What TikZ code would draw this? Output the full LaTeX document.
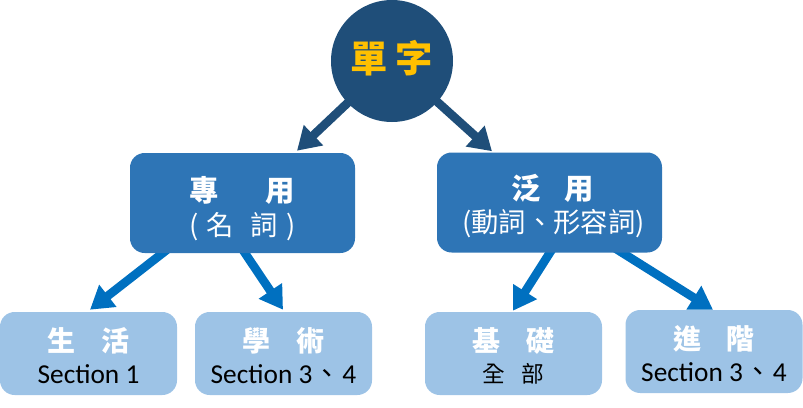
\documentclass[tikz,border=0pt]{standalone}
\usepackage{fontspec}
\setmainfont{Carlito}
\newfontfamily\cjk{Noto Sans CJK TC}
\usetikzlibrary{arrows.meta,calc,backgrounds}
\definecolor{navy}{HTML}{1F4E79}
\definecolor{midblue}{HTML}{2E75B6}
\definecolor{leafblue}{HTML}{9DC3E6}
\definecolor{arrowblue}{HTML}{0070C0}
\definecolor{gold}{HTML}{FFC000}
\begin{document}
\begin{tikzpicture}[x=0.75pt,y=-0.75pt]
\useasboundingbox (0,0) rectangle (803,407);
\tikzset{
 rootnode/.style={circle,fill=navy,minimum size=91.5pt,inner sep=0pt},
 midbox/.style={rectangle,rounded corners=11pt,fill=midblue,minimum width=168.75pt,minimum height=75pt,inner sep=0pt},
 leafbox/.style={rectangle,rounded corners=11pt,fill=leafblue,minimum width=132.75pt,minimum height=62.25pt,inner sep=0pt},
 roottext/.style={text=gold,font=\cjk\bfseries\fontsize{28}{30}\selectfont,inner sep=0pt},
 midtitle/.style={text=white,font=\cjk\bfseries\fontsize{22}{24}\selectfont,inner sep=0pt},
 midsub/.style={text=white,font=\cjk\fontsize{20.5}{22}\selectfont,inner sep=0pt},
 leaftitle/.style={text=white,font=\cjk\bfseries\fontsize{21}{23}\selectfont,inner sep=0pt},
 leafsub/.style={text=black,font=\fontsize{20.5}{22}\selectfont,inner sep=0pt},
 darkarrow/.style={draw=navy,line width=6.5pt,-{Triangle[width=20pt,length=17pt]}},
 bluearrow/.style={draw=arrowblue,line width=6.5pt,-{Triangle[width=20pt,length=17pt]}}
}
% boxes
\node[rootnode] (r) at (392,61) {};
\node[midbox] (zy) at (242.5,203) {};
\node[midbox] (fy) at (549.5,202.5) {};
\node[leafbox] (sh) at (88.5,353.5) {};
\node[leafbox] (xs) at (283.5,353.5) {};
\node[leafbox] (jc) at (513.5,353.5) {};
\node[leafbox] (jj) at (714,351.5) {};
% texts
\node[roottext] (rt) at ($(r)+(0,-3)$) {單\hspace{0.2em}字};
\node[midtitle] (zyt) at ($(zy)+(0,-13)$) {專\hspace{1.6em}用};
\node[midsub] (zys) at ($(zy)+(0,24)$) {(\hspace{0.3em}名\hspace{0.6em}詞\hspace{0.3em})};
\node[midtitle] (fyt) at ($(fy)+(3,-14)$) {泛\hspace{0.8em}用};
\node[midsub] (fys) at ($(fy)+(4,21)$) {(動詞、形容詞)};
\node[leaftitle] (sht) at ($(sh)+(0,-13)$) {生\hspace{0.9em}活};
\node[leafsub] (shs) at ($(sh)+(0,21)$) {Section 1};
\node[leaftitle] (xst) at ($(xs)+(0,-13)$) {學\hspace{0.9em}術};
\node[leafsub] (xss) at ($(xs)+(0,21)$) {Section 3\kern1pt{\cjk 、}\kern1pt 4};
\node[leaftitle] (jct) at ($(jc)+(0,-13)$) {基\hspace{0.9em}礎};
\node[leafsub,font=\cjk\fontsize{17}{19}\selectfont] (jcs) at ($(jc)+(0,20)$) {全\hspace{0.7em}部};
\node[leaftitle] (jjt) at ($(jj)+(0,-13)$) {進\hspace{0.9em}階};
\node[leafsub] (jjs) at ($(jj)+(0,21)$) {Section 3\kern1pt{\cjk 、}\kern1pt 4};
% connectors
\begin{scope}[on background layer]
\draw[darkarrow] (r.center) -- ($(zy.north)+(54.5,-2)$);
\draw[darkarrow] (r.center) -- ($(fy.north)+(-57.5,-1)$);
\draw[bluearrow] ($(zy.south)+(-57,-18)$) -- ($(sh.north)+(1.5,-2)$);
\draw[bluearrow] ($(zy.south)+(-7.5,-15)$) -- ($(xs.north)+(-0.5,-2)$);
\draw[bluearrow] ($(fy.south)+(10.5,-16)$) -- ($(jc.north)+(-0.5,-1)$);
\draw[bluearrow] ($(fy.south)+(50.5,-14)$) -- ($(jj.north)+(-1,0)$);
\end{scope}
\end{tikzpicture}
\end{document}
